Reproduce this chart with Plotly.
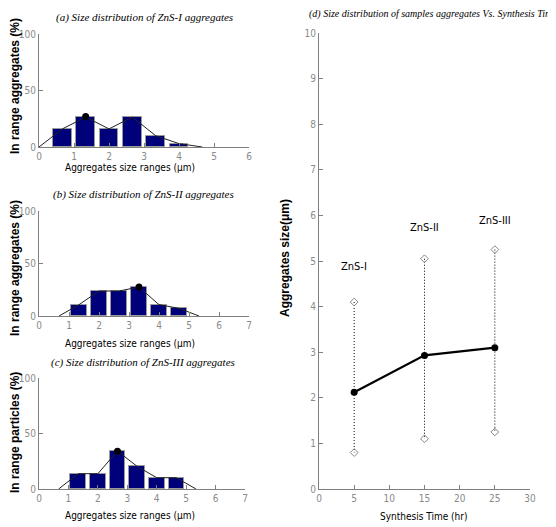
import plotly.graph_objects as go

# ---- data ----
bins_a = [0.667, 1.333, 2.0, 2.667, 3.333, 4.0]
vals_a = [16, 26.5, 16, 26.5, 10, 3]
line_x_a = [0, 0.667, 1.333, 2.0, 2.667, 3.333, 4.0, 4.667]
line_y_a = [0, 16, 26.5, 16, 26.5, 10, 3, 0]
peak_a = (1.333, 27)

bins_b = [1.333, 2.0, 2.667, 3.333, 4.0, 4.667]
vals_b = [10.8, 23.8, 23.8, 27.6, 10.8, 7.3]
line_x_b = [0.667, 1.333, 2.0, 2.667, 3.333, 4.0, 4.667, 5.333]
line_y_b = [0, 10.8, 23.8, 23.8, 27.6, 10.8, 7.3, 0]
peak_b = (3.333, 27.6)

bins_c = [1.333, 2.0, 2.667, 3.333, 4.0, 4.667]
vals_c = [13.8, 13.8, 34.2, 20.4, 10.2, 10.2]
line_x_c = [0.667, 1.333, 2.0, 2.667, 3.333, 4.0, 4.667, 5.333]
line_y_c = [0, 13.8, 13.8, 34.2, 20.4, 10.2, 10.2, 0]
peak_c = (2.667, 34)

times = [5, 15, 25]
mean_size = [2.12, 2.93, 3.1]
max_size = [4.1, 5.05, 5.25]
min_size = [0.8, 1.1, 1.25]
sample_names = ["ZnS-I", "ZnS-II", "ZnS-III"]
label_y = [4.7, 5.55, 5.7]

# page body has an 8px margin; the figure is sized so that it fills the 556x527 window
OFF = 8
W, H = 556 - OFF, 527 - OFF
NARROW = "Liberation Sans Narrow, Arial Narrow, DejaVu Sans Condensed, Liberation Sans, Arial, sans-serif"
SERIF = "Liberation Serif, Times New Roman, serif"
BOLD = "Liberation Sans, Arial, sans-serif"
BAR = "#00007a"
AX = "#7f7f7f"

def px(x):
    return (x - OFF) / W

def py(y):
    return 1 - (y - OFF) / H

def xd(a, b):
    return [px(a), px(b)]

def yd(top, bot):
    return [py(bot), py(top)]

fig = go.Figure()

panels = [
    (bins_a, vals_a, line_x_a, line_y_a, peak_a, "x", "y"),
    (bins_b, vals_b, line_x_b, line_y_b, peak_b, "x2", "y2"),
    (bins_c, vals_c, line_x_c, line_y_c, peak_c, "x3", "y3"),
]
for bx, by, lx, ly, pk, xa, ya in panels:
    fig.add_trace(go.Bar(x=bx, y=by, width=0.53, marker=dict(color=BAR, line=dict(color="#9a9a9a", width=1)),
                         xaxis=xa, yaxis=ya, showlegend=False))
    fig.add_trace(go.Scatter(x=lx, y=ly, mode="lines", line=dict(color="#222", width=1),
                             xaxis=xa, yaxis=ya, showlegend=False))
    fig.add_trace(go.Scatter(x=[pk[0]], y=[pk[1]], mode="markers", marker=dict(color="black", size=7),
                             xaxis=xa, yaxis=ya, showlegend=False))

# panel d
dx, dy = [], []
for t, lo, hi in zip(times, min_size, max_size):
    dx += [t, t, None]
    dy += [hi, lo, None]
fig.add_trace(go.Scatter(x=dx, y=dy, mode="lines", line=dict(color="black", width=1, dash="1px,2px"),
                         xaxis="x4", yaxis="y4", showlegend=False))
fig.add_trace(go.Scatter(x=times + times, y=max_size + min_size, mode="markers",
                         marker=dict(symbol="diamond-open", size=6, color="#888", line=dict(width=1)),
                         xaxis="x4", yaxis="y4", showlegend=False))
fig.add_trace(go.Scatter(x=times, y=mean_size, mode="lines+markers", line=dict(color="black", width=2.2),
                         marker=dict(color="black", size=7), xaxis="x4", yaxis="y4", showlegend=False))
for t, yv, name in zip(times, label_y, sample_names):
    fig.add_annotation(x=t, y=yv, xref="x4", yref="y4", text=name, showarrow=False,
                       font=dict(family=NARROW, size=11, color="black"), yanchor="bottom")

axcommon = dict(showline=True, linecolor=AX, linewidth=1, ticks="inside", ticklen=4, tickcolor=AX,
                showgrid=False, zeroline=False, tickfont=dict(family=NARROW, size=10, color="#8a8a8a"),
                mirror=False, fixedrange=True, automargin=False)

fig.update_layout(
    template="none",
    width=W, height=H, margin=dict(l=0, r=0, t=0, b=0, pad=0, autoexpand=False),
    plot_bgcolor="white", paper_bgcolor="white",
    bargap=0, showlegend=False,
    xaxis=dict(domain=xd(39, 249), range=[0, 6], tickvals=list(range(0, 7)), anchor="y", **axcommon),
    yaxis=dict(domain=yd(34, 147), range=[0, 100], tickvals=[0, 50, 100], anchor="x", **axcommon),
    xaxis2=dict(domain=xd(39, 249), range=[0, 7], tickvals=list(range(0, 8)), anchor="y2", **axcommon),
    yaxis2=dict(domain=yd(211, 316), range=[0, 100], tickvals=[0, 50, 100], anchor="x2", **axcommon),
    xaxis3=dict(domain=xd(39, 245), range=[0, 7], tickvals=list(range(0, 8)), anchor="y3", **axcommon),
    yaxis3=dict(domain=yd(378, 489), range=[0, 100], tickvals=[0, 50, 100], anchor="x3", **axcommon),
    xaxis4=dict(domain=xd(319, 530), range=[0, 30], tickvals=list(range(0, 31, 5)), anchor="y4", **axcommon),
    yaxis4=dict(domain=yd(33, 489), range=[0, 10], tickvals=list(range(0, 11)), anchor="x4", **axcommon),
)

def ann(x, y, text, font, angle=0):
    fig.add_annotation(x=px(x), y=py(y), xref="paper", yref="paper", text=text, showarrow=False,
                       font=font, textangle=angle, xanchor="center", yanchor="middle")

tfont = dict(family=SERIF, size=11, color="black")
ann(144, 18, "<i>(a) Size distribution of ZnS-I aggregates</i>", tfont)
ann(143, 195, "<i>(b) Size distribution of ZnS-II aggregates</i>", tfont)
ann(143, 362, "<i>(c) Size distribution of ZnS-III aggregates</i>", tfont)
ann(433, 14, "<i>(d) Size distribution of samples aggregates Vs. Synthesis Time</i>",
    dict(family=SERIF, size=10, color="black"))

xfont = dict(family=NARROW, size=10, color="black")
ann(130, 168, "Aggregates size ranges (μm)", xfont)
ann(130, 343, "Aggregates size ranges (μm)", xfont)
ann(130, 515, "Aggregates size ranges (μm)", xfont)
ann(424, 516, "Synthesis Time (hr)", xfont)

yfont = dict(family=BOLD, size=12, color="black")
ann(15, 86, "<b>In range aggregates (%)</b>", yfont, -90)
ann(15, 268, "<b>In range aggregates (%)</b>", yfont, -90)
ann(15, 433, "<b>In range particles (%)</b>", yfont, -90)
ann(285, 258, "<b>Aggregates size(μm)</b>", yfont, -90)

fig.write_html("out.html")
